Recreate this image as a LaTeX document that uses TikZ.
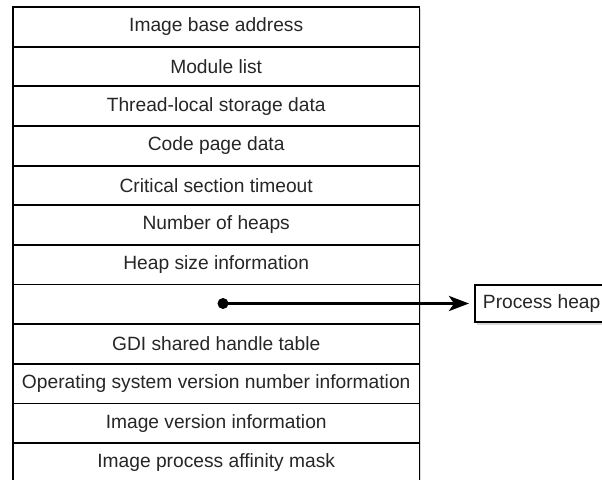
\documentclass[tikz,border=0pt]{standalone}
\usepackage{fontspec}
\setmainfont{Liberation Sans}
\usetikzlibrary{arrows.meta}
\begin{document}
\begin{tikzpicture}[x=1pt,y=-1pt,
  rowbox/.style={draw=black, fill=white, line width=1.9pt, minimum width=406.5pt,
    minimum height=39.65pt, inner sep=0pt, anchor=north west,
    font=\fontsize{19.2}{22}\selectfont, text=black!85},
  phbox/.style={draw=black, fill=white, line width=1.9pt, minimum height=37pt,
    inner xsep=8pt, inner ysep=0pt, anchor=west,
    font=\fontsize{19.2}{22}\selectfont, text=black!85},
  shadow/.style={fill=black!15, draw=none},
  dotnode/.style={circle, fill=black, inner sep=0pt, minimum size=11pt},
  link/.style={line width=3.3pt, -{Stealth[length=20pt,width=15pt,inset=5pt]}}]
\useasboundingbox (0,0) rectangle (602,479);
\clip (0,0) rectangle (602,479);
% shadows
\fill[shadow] (14.5,8.5) rectangle (421,490);
\fill[shadow] (476.5,287.5) rectangle (620,324.5);
% table rows
\foreach \t [count=\i from 0] in {Image base address, Module list,
  Thread-local storage data, Code page data, Critical section timeout,
  Number of heaps, Heap size information, {}, GDI shared handle table,
  Operating system version number information, Image version information,
  Image process affinity mask}
  \node[rowbox] (r\i) at (12, 6+\i*39.65) {\t};
% process heap
\node[phbox] (ph) at (474, 303.5) {Process heap\hspace{20pt}};
\node[dotnode] (dot) at (223, 303.5) {};
\draw[link] (dot.center) -- (ph.west) [shorten >=5pt];
\end{tikzpicture}
\end{document}
